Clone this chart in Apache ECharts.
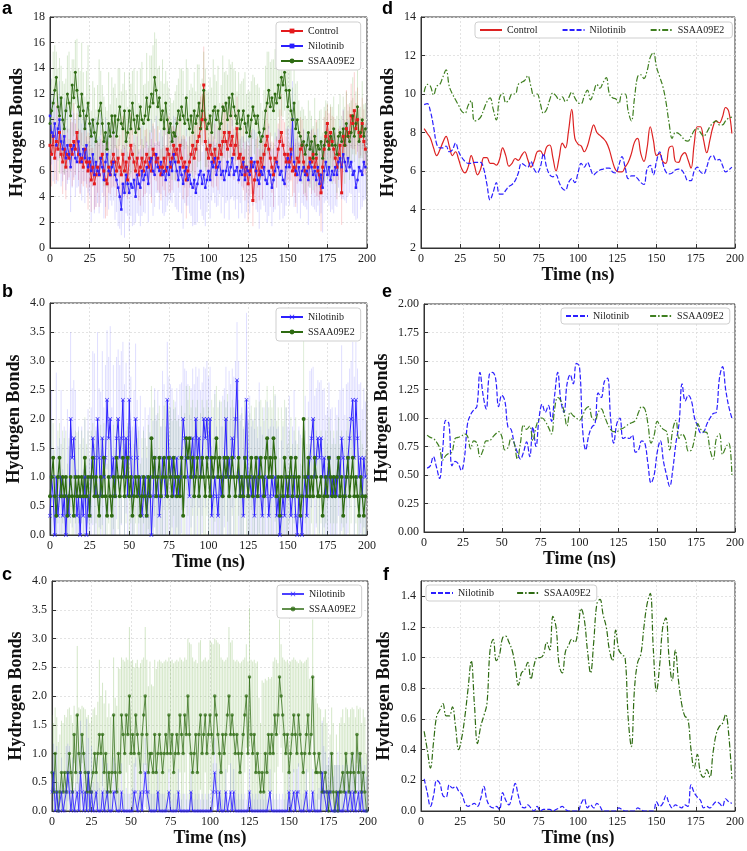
<!DOCTYPE html>
<html>
<head>
<meta charset="utf-8">
<script src="https://cdn.jsdelivr.net/npm/echarts@6/dist/echarts.min.js"></script>
<style>html,body{margin:0;padding:0;background:#fff}#c{width:747px;height:851px}</style>
</head>
<body>
<div id="c"></div>
<script>
// ---------- sample times ----------
const TIME_RAW = Array.from({length: 200}, (_, i) => i);          // 0..199 ns
const TIME_SMOOTH = Array.from({length: 99}, (_, i) => 2 + 2 * i); // 2..198 ns
const X_TICKS = [0, 25, 50, 75, 100, 125, 150, 175, 200];
const LEGEND_A = ['Control', 'Nilotinib', 'SSAA09E2'];
const LEGEND_B = ['Nilotinib', 'SSAA09E2'];

// ---------- panel a (raw, with error bars) ----------
const A_CTRL = [8.0,7.3,8.7,7.0,8.3,7.7,9.0,7.3,6.7,7.7,
6.3,7.3,7.0,8.0,7.3,8.3,7.7,9.0,7.3,6.7,
7.0,6.3,7.7,6.7,6.0,6.7,5.3,6.3,5.0,5.7,
6.3,5.7,7.0,7.3,6.0,5.3,5.0,6.3,5.7,6.7,
7.3,6.7,6.0,7.0,6.3,5.7,7.3,6.0,6.7,5.3,
7.0,8.0,7.3,6.7,6.0,7.0,5.7,6.3,7.0,6.0,
6.7,7.3,6.3,7.0,6.0,7.7,7.3,6.7,7.0,6.3,
5.7,6.3,7.0,6.0,7.7,7.3,6.3,7.0,8.0,7.3,
7.7,6.7,8.0,7.0,6.3,6.7,5.3,6.0,6.7,7.3,
8.0,7.0,7.7,8.3,8.7,9.3,10.0,12.7,8.3,7.7,
7.0,8.0,7.3,6.7,7.7,6.3,7.0,8.0,7.3,8.3,
9.0,8.3,7.7,9.0,8.0,8.7,7.3,8.0,9.3,7.0,
7.3,6.3,7.0,5.7,6.3,5.0,6.0,6.7,3.7,5.3,
6.0,6.7,5.7,7.0,6.3,7.3,8.0,8.7,7.7,7.0,
6.3,5.7,7.0,6.7,7.7,8.3,9.0,8.0,7.3,6.7,
7.3,6.7,7.7,6.0,6.3,5.7,7.0,6.7,7.7,8.0,
6.7,6.0,5.7,6.3,7.0,6.7,7.3,6.3,7.0,6.0,
5.7,4.3,6.3,7.7,8.7,9.7,8.0,9.0,8.3,7.7,
7.0,6.3,7.3,8.0,4.3,8.7,8.0,9.3,8.7,9.0,
10.3,9.7,10.7,9.3,10.0,9.0,8.7,9.7,8.3,7.7];
const A_CTRL_ERR = [2,2.5,1.5,2,3,2.5,2,1.5,2.5,2,
2.5,2,1.5,2,2.5,3,2,1.5,2,2.5,
2,1.5,2.5,2,3,2,2.5,1.5,2,2.5,
2,2.5,1.5,2,2,3,2.5,2,1.5,2,
2.5,2,2,1.5,2.5,2,3,2,2.5,1.5,
2,2.5,2,1.5,2,2.5,2,3,1.5,2,
2.5,2,1.5,2,2.5,2,2,1.5,2.5,2,
2,1.5,2.5,2,2,3,2,2.5,1.5,2,
2.5,2,2,1.5,2.5,2,3,2,2,1.5,
2,2.5,2,1.5,2,2.5,2,3,2,2.5,
1.5,2,2.5,2,2,1.5,2.5,2,2,3,
2,2.5,1.5,2,2.5,2,2,1.5,2.5,2,
2,1.5,2.5,2,2,3,2,2.5,2,1.5,
2.5,2,2,1.5,2.5,2,2,3,2,2,
2,2.5,1.5,2,2,2.5,3,2,2.5,2,
2,1.5,2.5,2,2,2.5,2,1.5,2.5,2,
2.5,2,2,1.5,2,2.5,2,2,3,2,
2,3,2,2.5,2,1.5,2.5,2,2,2.5,
2,2.5,2,1.5,2.5,2,2,3,2.5,2,
2.5,2,3,2,2.5,2,1.5,2,2.5,2];
const A_NILO = [10.3,9.0,8.7,9.7,8.0,9.3,10.0,8.3,7.7,8.7,
7.0,8.0,7.3,6.3,7.7,8.0,7.0,6.7,8.3,7.3,
6.7,7.7,7.0,8.0,6.3,7.0,6.0,7.3,5.7,6.7,
6.0,5.7,7.0,6.3,5.3,6.7,7.3,6.0,5.7,6.3,
6.7,5.7,5.3,4.7,4.0,3.0,5.0,4.3,5.7,5.0,
4.3,5.0,4.7,5.3,4.0,5.7,5.0,4.7,6.0,5.3,
5.7,6.3,5.0,6.7,7.0,6.0,5.7,7.3,6.3,6.0,
6.7,5.7,6.0,5.3,6.3,5.7,6.7,6.0,7.3,6.7,
6.0,5.3,6.3,5.7,5.0,6.0,6.3,5.3,5.7,5.0,
4.7,5.3,4.3,5.0,5.7,6.0,5.0,5.7,4.7,5.3,
6.0,5.3,6.7,6.3,7.0,5.7,6.3,6.7,5.7,6.0,
5.3,6.0,6.7,5.7,6.3,7.0,5.7,6.0,6.3,5.3,
6.0,5.7,6.7,5.3,6.3,6.0,5.7,7.0,6.3,6.7,
6.0,5.3,5.0,6.0,5.7,6.3,5.3,5.0,6.0,5.7,
4.7,5.3,6.0,6.7,6.3,5.7,6.0,5.3,5.0,6.3,
7.0,6.3,7.3,10.0,6.7,6.0,5.7,6.3,5.3,6.0,
6.3,5.7,6.0,5.3,6.7,6.3,5.7,6.0,5.3,6.3,
5.0,5.7,4.7,6.0,6.7,5.7,6.3,5.3,6.0,5.7,
6.3,5.7,6.7,7.0,6.3,7.3,6.7,6.0,7.0,6.3,
6.7,5.7,6.0,4.7,5.3,6.3,6.0,5.7,6.7,6.3];
const A_NILO_ERR = [3,2.5,3.5,2,3,2.5,3,3.5,2.5,3,
2.5,3,2,3.5,3,2.5,3,2,3.5,3,
3,2.5,3.5,3,2,3,4,2.5,3,3.5,
2.5,3,3.5,2,3,3.5,2.5,3,2,3,
3,3.5,2.5,3,2.5,2,3,3.5,3,2.5,
3,2.5,3,3.5,2,3,2.5,3,3.5,2.5,
3,2,3,2.5,3,3.5,2.5,3,2,3,
2.5,3,3.5,2.5,3,2,3,2.5,3,3.5,
3,2.5,2,3,3.5,2.5,3,2,3,2.5,
3,3.5,2.5,3,2,3,2.5,3.5,3,2.5,
2.5,3,3,2,3.5,2.5,3,2.5,3,2,
3,2.5,3,3.5,2.5,3,2,3,2.5,3,
2.5,3,2,3,3.5,2.5,3,2,3,2.5,
3,2.5,3.5,3,2,3,2.5,3,3.5,2.5,
3,2.5,3,2,3,3.5,2.5,3,2.5,3,
2.5,3,2,3,3.5,2.5,3,2,3,2.5,
3,2.5,3,3.5,2,3,2.5,3,2.5,3,
2.5,3,3.5,2.5,3,2,3,2.5,3,3,
3,2.5,2,3,2.5,3.5,3,2.5,3,2,
2.5,3,3.5,2.5,3,2,3,2.5,3,2.5];
const A_SSAA = [9.7,10.7,11.3,12.3,13.3,11.0,10.3,11.7,10.0,9.3,
10.7,12.0,11.3,10.3,12.7,11.7,13.7,12.3,11.0,10.3,
12.0,10.7,9.3,10.3,11.3,9.7,8.7,10.0,9.0,8.3,
9.7,10.7,11.3,9.7,8.3,9.0,7.7,9.7,8.7,10.3,
9.0,10.3,8.7,10.0,11.0,9.7,9.3,10.7,8.3,9.0,
10.7,9.3,11.3,10.0,9.0,10.3,9.3,11.0,10.0,9.7,
10.3,11.7,10.0,11.0,12.0,11.3,13.3,12.3,11.0,11.7,
10.0,10.7,9.3,11.3,10.0,9.0,9.7,8.3,9.0,8.7,
9.7,10.7,10.0,11.0,10.3,9.7,11.7,10.0,9.3,10.3,
9.0,10.7,9.7,10.3,11.3,9.3,10.7,12.3,10.0,9.3,
9.7,10.3,9.0,10.7,11.0,10.0,10.7,9.3,9.7,11.0,
10.7,11.3,10.0,11.7,10.3,12.0,11.0,10.3,9.7,10.7,
9.3,10.0,10.7,9.7,9.0,10.3,8.7,10.0,11.0,10.3,
9.7,10.3,9.0,8.3,8.7,9.3,10.7,11.3,12.3,11.0,
11.7,10.7,12.0,11.3,12.7,11.7,13.3,12.7,13.7,12.3,
11.0,12.3,10.7,10.0,11.3,9.3,10.0,9.0,8.7,8.0,
8.3,7.3,8.0,9.0,7.7,8.3,7.0,8.7,7.3,8.0,
7.7,8.3,7.0,8.0,9.0,8.3,7.7,8.7,8.0,9.3,
8.0,7.3,8.7,9.0,8.3,9.3,8.0,9.7,8.7,8.3,
9.0,10.3,8.7,9.7,11.0,8.3,9.0,10.0,8.7,9.3];
const A_SSAA_ERR = [3,2.5,4,3.5,2,3,4.5,2.5,3,3.5,
2.5,3,4,3.5,2,3,2.5,4,3,3.5,
4,3,2.5,3.5,4.5,3,2,3,3.5,2.5,
3,4,2.5,3,3.5,2,3,4,2.5,3,
3.5,2.5,3,4,3,2.5,3.5,3,4,2,
3,3.5,2.5,4,3,3.5,2,3,4.5,3,
2.5,3.5,3,4,3,4.5,3.5,4,3,2.5,
3,4,3.5,2.5,3,3.5,2,3,2.5,3.5,
3,2.5,4,3,3.5,2,3,4,3,2.5,
3.5,3,2.5,4,3,3.5,2.5,3,4,3,
2.5,3,3.5,4,2.5,3,3.5,2,3,4,
3,2.5,3.5,3,4,2.5,3,3.5,2.5,3,
3.5,3,2.5,4,3,2,3.5,3,2.5,3,
3,2.5,3.5,3,2,3,3.5,4,3,3.5,
3,4,3.5,3,2.5,3.5,3,2.5,3,3.5,
4,3,3.5,2.5,3,3.5,3,2.5,2,3,
2.5,3,2,2.5,3,2,2.5,3,2.5,2,
3,2.5,2,3,2.5,3,2,2.5,3,2.5,
2,3,2.5,3,2,2.5,3,2.5,2,3,
2.5,3,2,2.5,3,2.5,2,3,2.5,2];

// ---------- panel b (raw) ----------
const B_NILO = [0.33,1.0,0.67,0.0,1.0,0.33,0.67,1.0,0.33,0.67,
0.0,0.67,0.33,2.0,1.33,1.67,1.0,0.33,0.67,0.0,
0.67,0.33,1.0,0.0,0.67,0.33,1.0,1.67,1.33,0.67,
2.0,1.33,0.67,1.67,1.0,1.33,2.33,1.67,2.0,1.0,
1.33,0.67,1.67,2.0,1.33,1.67,2.33,1.0,1.67,0.67,
2.33,1.33,0.67,1.0,2.0,1.33,0.67,1.0,0.33,0.67,
1.0,0.33,0.67,1.0,0.0,0.67,1.33,0.67,1.0,0.33,
0.67,1.33,1.0,0.67,2.33,1.33,1.0,1.33,0.67,1.0,
1.33,0.67,1.0,1.33,2.0,1.67,1.33,1.0,0.67,1.33,
1.67,1.0,2.0,1.33,1.67,1.0,1.33,2.0,1.67,2.0,
1.33,2.0,0.33,0.67,1.0,0.67,0.33,1.0,0.67,1.0,
1.33,2.0,1.0,1.33,1.0,1.67,1.33,2.0,2.67,1.0,
0.67,1.0,0.33,1.33,2.33,0.67,1.0,0.67,1.0,0.33,
1.0,0.67,1.33,0.67,0.33,1.0,0.67,1.0,0.33,0.67,
1.0,0.67,1.0,0.33,0.67,0.0,0.33,0.67,0.33,1.0,
0.67,1.0,0.33,0.67,1.0,0.33,0.0,0.67,0.33,0.0,
0.67,1.0,0.33,1.0,1.33,1.67,2.0,1.0,1.33,1.67,
1.33,1.67,1.0,1.33,0.67,1.0,1.33,0.67,1.0,0.67,
1.0,0.67,1.33,1.0,1.67,1.33,0.67,1.0,1.33,1.67,
2.0,2.33,1.33,2.33,1.67,1.0,1.33,0.67,1.33,1.0];
const B_NILO_ERR = [1.2,1.5,0.8,1.0,1.8,1.2,1.0,1.5,0.8,1.2,
1.0,1.5,1.2,1.5,1.2,1.0,1.5,0.8,1.2,1.0,
1.2,0.8,1.0,1.2,1.5,1.0,1.2,1.5,1.8,1.2,
1.5,1.2,1.8,1.5,1.2,1.6,1.2,1.4,1.6,1.2,
1.6,1.3,1.4,1.2,1.6,1.5,1.0,1.6,1.3,1.2,
1.0,1.4,1.2,1.5,1.3,1.0,1.2,1.4,1.0,1.2,
1.2,1.0,1.4,1.2,1.0,1.3,1.2,1.4,1.5,1.0,
1.2,1.5,1.6,1.2,1.0,1.4,1.6,1.2,1.5,1.3,
1.2,1.4,1.6,1.3,1.0,1.2,1.5,1.6,1.4,1.2,
1.2,1.6,0.9,1.4,1.2,1.5,1.3,0.9,1.2,1.0,
1.4,0.9,1.2,1.0,1.5,1.2,1.0,1.3,1.2,1.4,
1.2,0.9,1.3,1.5,1.6,1.2,1.4,1.0,1.0,2.0,
1.4,1.2,1.5,1.0,1.5,1.3,1.4,1.2,1.0,1.5,
1.2,1.0,1.3,1.2,1.4,1.2,1.0,1.3,1.5,1.2,
1.0,1.2,1.4,1.5,1.2,1.0,1.3,1.2,1.0,1.2,
1.2,1.4,1.0,1.2,1.5,1.3,1.0,1.2,1.4,1.2,
1.2,1.4,1.0,1.3,1.5,1.2,0.9,1.4,1.2,1.0,
1.3,1.0,1.5,1.2,1.4,1.2,1.3,1.5,1.2,1.0,
1.2,1.4,1.0,1.5,1.6,1.2,1.4,1.6,1.3,1.2,
1.0,1.0,1.4,1.0,1.2,1.6,1.3,1.5,1.2,1.3];
const B_SSAA = [0.67,1.0,1.33,0.67,0.33,1.0,1.33,0.67,1.0,0.67,
1.0,0.33,0.67,1.0,0.67,0.33,1.0,0.67,1.0,0.67,
1.0,0.67,1.33,0.67,1.0,0.33,1.0,1.33,0.67,1.0,
0.67,0.33,1.0,0.67,1.33,0.67,0.33,1.0,0.67,0.33,
1.0,0.67,1.33,1.0,0.67,1.0,1.33,0.67,1.0,1.33,
0.67,1.0,0.33,0.67,1.0,0.67,1.0,0.33,0.67,1.0,
0.67,0.33,1.0,0.67,1.67,1.0,1.33,0.67,1.0,1.33,
0.67,1.0,1.33,1.0,0.67,1.33,1.0,0.67,1.33,1.0,
0.67,1.0,0.67,1.33,0.33,1.0,1.67,1.33,1.67,1.0,
1.33,0.67,1.0,1.33,0.67,1.0,1.33,1.0,0.67,1.33,
1.0,0.67,1.33,1.0,1.33,1.67,1.0,1.33,1.0,0.67,
1.33,1.0,1.33,0.67,1.0,1.33,1.0,0.67,1.0,1.33,
0.67,1.0,0.67,1.33,1.0,0.67,1.0,1.33,0.67,1.0,
1.33,0.67,1.0,1.33,1.0,0.67,1.33,1.67,1.0,1.33,
1.0,1.67,1.33,0.67,1.0,0.33,1.0,0.67,1.33,1.0,
0.67,1.0,1.33,0.67,1.0,1.33,0.67,1.0,0.33,0.67,
2.0,1.0,0.67,1.33,0.67,1.0,0.67,1.33,1.0,0.67,
0.67,1.0,0.33,0.67,1.0,0.67,1.33,1.0,0.67,1.0,
0.67,1.0,1.33,0.67,1.0,0.33,0.67,1.0,1.33,0.67,
1.0,1.33,0.67,1.0,0.67,0.33,1.0,0.67,0.33,0.67];
const B_SSAA_ERR = [0.8,1.0,0.6,0.8,1.0,0.8,0.6,0.9,0.8,1.0,
0.8,0.9,1.0,0.8,0.9,1.0,0.8,1.1,0.8,0.9,
0.8,1.0,0.7,0.9,0.8,1.0,0.8,0.6,0.9,0.8,
1.0,0.8,0.9,0.8,0.6,1.0,0.9,0.8,1.0,0.8,
0.9,0.8,0.7,0.9,1.0,0.8,0.6,0.9,0.8,0.6,
0.9,0.8,1.0,0.9,0.8,1.0,0.8,0.9,1.0,0.8,
1.0,1.2,0.9,1.1,0.9,1.2,1.0,1.3,1.1,0.9,
1.2,1.0,0.9,1.3,1.1,0.9,1.2,1.3,1.0,1.2,
1.3,1.0,1.2,0.9,1.2,1.1,0.9,1.0,0.9,1.2,
1.0,1.3,1.2,1.0,1.3,1.1,1.0,1.2,1.3,1.0,
1.2,1.3,1.0,1.2,1.1,0.9,1.2,1.0,1.3,1.2,
1.0,1.2,1.1,1.3,1.2,1.0,1.2,1.3,1.1,1.0,
1.3,1.1,1.2,1.0,1.2,1.3,1.1,0.9,1.3,1.2,
1.0,1.2,1.3,1.0,1.2,1.3,1.0,0.9,1.2,1.0,
1.2,0.9,1.1,1.3,1.2,1.0,1.2,1.3,1.0,1.2,
0.9,0.8,0.7,0.9,0.8,0.7,0.9,0.8,0.9,1.0,
1.5,0.8,0.9,0.7,0.9,0.8,0.9,0.7,0.8,0.9,
0.9,0.8,0.9,1.0,0.8,0.9,0.7,0.8,0.9,0.8,
0.9,0.8,0.7,0.9,0.8,0.9,1.0,0.8,0.7,0.9,
0.8,0.7,0.9,0.8,1.0,0.9,0.8,0.9,1.0,0.8];

// ---------- panel c (raw) ----------
const C_NILO = [0.33,0.67,0,0.33,0,0,0.33,0,0,0.33,
0.67,0.33,0,0.33,0,0,0.33,0,0.67,0.33,
0,0.33,0,0.67,0,0.33,0,0,0.33,0,
0,0,0.33,0,0,0.33,0,0,0,0.33,
0.33,0,0,0,0.33,0,0,0,0,0,
0,0,0.33,0.33,0,0,0.33,0,0.33,0.67,
0.33,0.33,0,0,0,0,0,0.33,0,0,
0,0,0,0,0.33,0,0,0,0,0,
0.33,0,0,0,0,0,0,0,0.33,0,
0,0,0,0,0,0,0,0,0,0,
0,0,0.33,0.67,0.33,0,0.33,0,0,0,
0.33,0,0,0.33,0,0.33,0,0,0,0,
0,0,0,0,0,0.33,0,0,0,0,
0,0,0,0,0,0,0,0,0.33,0,
0,0,0,0,0,0,0,0,0,0,
0.33,0,0,0.33,0,0.33,0.33,0,0,0,
0,0.33,0,0,0,0.33,0,0,0,0,
0,0.67,0.33,0.33,0,0.33,0.33,0,0,0,
0,0.33,0,0,0,0,0.33,0,0,0.33,
0,0.33,0,0,0.33,0,0.33,0,0,0];
const C_NILO_ERR = [0.6,0.5,0.4,0.8,0.5,0.3,0.6,0.5,0.4,0.8,
0.5,0.8,0.5,0.6,0.4,0.5,0.7,0.5,0.9,0.8,
0.5,0.7,1.6,0.6,0.4,0.8,0.5,0.3,0.6,0.5,
0.4,0.3,0.6,0.4,0.3,0.5,0.3,0.4,0.3,0.6,
0.5,0.3,0.4,0.3,0.5,0.3,0.3,0.4,0.3,0.3,
0.3,0.4,0.5,0.6,0.3,0.3,0.5,0.3,0.5,0.6,
0.5,0.4,0.3,0.3,0.3,0.3,0.3,0.4,0.3,0.3,
0.3,0.3,0.2,0.3,0.4,0.3,0.2,0.3,0.3,0.2,
0.4,0.3,0.2,0.3,0.3,0.2,0.3,0.2,0.4,0.3,
0.2,0.3,0.2,0.3,0.2,0.3,0.2,0.3,0.2,0.3,
0.3,0.2,0.5,0.6,0.5,0.3,0.4,0.3,0.2,0.3,
0.4,0.3,0.2,0.5,0.3,0.4,0.3,0.2,0.3,0.2,
0.3,0.2,0.3,0.2,0.3,0.4,0.2,0.3,0.2,0.3,
0.2,0.3,0.2,0.3,0.2,0.3,0.2,0.3,0.4,0.2,
0.3,0.2,0.3,0.2,0.3,0.2,0.3,0.2,0.3,0.2,
0.4,0.3,0.2,0.4,0.3,0.4,0.5,0.3,0.2,0.3,
0.3,0.4,0.3,0.2,0.3,0.4,0.3,0.2,0.3,0.4,
0.5,0.9,0.8,0.7,0.8,0.6,0.7,0.8,0.6,0.8,
0.8,0.7,0.8,0.6,0.8,0.7,0.6,0.8,0.7,0.6,
0.8,0.7,0.6,0.8,0.7,0.8,0.6,0.7,0.8,0.6];
const C_SSAA = [0.67,0.33,1.0,0.33,0.0,0.33,0.67,0.33,0.67,0.33,
0.67,1.0,0.67,0.33,1.33,0.67,1.67,1.0,0.67,1.33,
1.0,0.67,0.33,0.67,0.33,0.33,0.67,1.0,0.67,1.0,
1.33,1.0,1.33,0.67,1.0,0.33,0.67,0.33,0.67,1.67,
0.67,0.33,1.0,0.67,1.67,1.33,1.0,1.67,1.33,2.0,
1.0,1.33,1.0,1.67,1.33,1.0,0.67,1.33,1.67,2.0,
1.33,0.67,1.0,1.0,0.67,1.33,0.67,1.0,1.33,1.0,
0.67,1.0,1.33,1.0,1.67,1.0,1.33,0.67,1.0,1.33,
1.0,1.67,1.33,1.0,1.67,1.33,2.0,1.33,1.0,0.67,
1.0,1.33,0.67,1.33,1.67,1.0,1.33,1.67,1.0,1.33,
1.67,1.33,1.0,2.0,1.67,1.33,1.0,0.67,1.33,1.0,
1.33,1.67,2.0,1.33,1.67,1.33,1.0,1.33,1.0,0.67,
1.0,1.33,1.67,2.0,1.0,2.33,1.33,1.0,1.33,0.67,
1.0,0.67,0.33,0.67,0.33,1.0,0.67,1.33,1.0,1.33,
1.0,1.67,1.33,1.67,2.33,2.0,1.67,1.33,1.0,1.33,
0.67,1.0,1.33,1.67,1.33,1.0,1.67,1.33,1.0,0.67,
1.0,1.33,1.67,1.0,1.33,2.33,1.0,0.67,0.67,1.0,
0.67,0.33,0.33,0.67,0.33,0.0,0.33,1.0,0.33,0.0,
0.33,0.0,0.33,0.33,0.67,0.33,1.0,0.67,0.33,0.67,
1.0,0.67,0.33,1.33,0.67,1.0,0.33,0.67,0.33,0.0];
const C_SSAA_ERR = [1.0,1.2,0.8,1.3,1.2,1.0,0.9,1.2,1.0,1.3,
1.1,0.8,1.0,1.2,0.5,1.0,1.2,0.8,1.1,0.5,
0.8,1.1,1.3,1.0,1.2,1.3,1.1,0.8,1.0,0.9,
1.3,1.0,0.9,1.2,1.1,1.3,1.2,1.3,1.0,1.0,
1.3,1.5,1.5,1.8,1.0,1.3,1.6,1.0,1.3,1.2,
1.6,1.3,1.5,0.9,1.3,1.5,1.9,1.3,1.0,1.2,
1.3,1.5,1.6,1.2,1.5,1.3,1.8,1.6,1.3,1.6,
1.9,1.6,1.3,1.6,1.0,1.6,1.3,1.9,1.6,1.3,
1.6,1.0,1.3,1.6,1.0,1.3,1.0,1.6,1.9,2.0,
1.6,1.3,1.9,1.6,1.3,1.6,1.3,1.0,1.6,1.3,
1.3,1.6,1.9,1.0,1.3,1.6,1.9,2.0,1.3,1.6,
1.3,1.0,1.2,1.6,1.3,1.3,1.6,1.3,1.6,1.9,
1.6,1.3,1.0,0.9,1.6,1.2,1.3,1.6,1.3,1.9,
1.6,1.3,1.2,1.6,1.9,1.3,1.6,1.0,1.3,1.0,
1.6,1.0,1.3,0.9,1.0,0.9,1.0,1.3,1.6,1.3,
1.9,1.6,1.3,1.0,1.3,1.6,0.9,1.3,1.6,1.9,
1.6,1.3,1.0,1.3,1.0,1.0,1.3,1.3,1.2,0.8,
1.1,1.2,1.3,1.1,1.2,0.8,1.0,0.8,1.2,0.8,
1.0,0.8,1.2,1.3,1.1,1.2,0.8,1.1,1.3,1.1,
0.8,1.1,1.3,0.5,1.1,0.8,1.2,1.1,1.3,1.0];

// ---------- panel d (smoothed) ----------
const D_CTRL = [8.2,7.95,7.7,7.2,6.8,7.1,7.5,7.8,7.3,6.8,
7.0,6.6,6.1,5.9,6.2,6.8,6.3,5.8,6.1,6.7,
6.7,6.4,6.4,6.3,6.6,7.2,6.8,6.25,6.4,6.65,
6.55,6.8,7.0,6.6,6.2,6.5,7.0,7.05,6.8,7.25,
7.35,6.7,6.0,6.7,7.45,7.2,8.1,9.2,7.7,7.4,
7.3,7.0,7.3,7.9,8.4,8.0,7.85,7.7,7.5,7.1,
6.5,6.05,5.95,5.95,6.2,6.45,6.9,7.5,7.7,6.9,
6.5,7.2,8.3,7.6,6.8,6.9,6.5,6.4,7.2,7.3,
6.5,6.45,6.8,6.95,6.6,6.15,7.4,8.3,8.3,7.6,
6.95,7.6,8.3,8.6,8.5,8.8,9.3,9.1,7.95];
const D_NILO = [9.45,9.5,9.1,8.3,7.4,7.2,7.2,7.3,7.0,7.1,
7.45,7.0,6.7,6.5,6.4,6.4,6.45,6.45,6.45,6.1,
5.3,4.5,4.9,5.4,4.8,4.8,5.0,5.2,5.3,5.5,
5.9,6.4,6.3,6.2,6.5,6.1,5.9,6.2,6.9,6.2,
5.8,5.7,5.8,5.4,5.1,5.0,5.4,5.6,5.4,5.9,
6.4,6.2,6.45,6.1,5.8,5.95,6.05,6.1,6.15,6.15,
5.95,5.9,6.3,6.75,6.2,5.6,5.75,5.75,5.6,5.4,
5.3,6.1,6.3,5.8,6.5,7.0,6.4,5.95,5.85,5.9,
6.05,6.1,6.05,5.8,5.5,5.5,6.0,6.2,5.95,5.85,
6.2,6.7,6.8,6.55,6.6,6.3,5.95,6.05,6.2];
const D_SSAA = [10.1,10.5,10.4,9.95,10.4,10.5,10.9,11.25,10.4,10.0,
9.7,9.4,9.1,9.0,9.4,9.65,8.6,8.65,8.8,9.2,
9.6,9.8,9.2,8.65,9.8,10.05,9.55,9.7,10.0,10.0,
10.5,10.6,10.7,10.95,10.4,9.9,10.0,9.5,9.0,9.2,
9.7,10.05,9.9,9.7,9.85,9.6,9.8,10.1,9.8,9.55,
9.5,9.9,10.2,9.7,10.1,10.5,10.3,10.6,10.85,10.0,
9.8,9.75,9.5,10.0,10.0,9.1,8.6,9.8,10.9,11.0,
10.8,11.2,11.9,12.15,11.4,10.9,10.4,9.6,8.5,7.7,
8.0,7.95,7.8,7.6,7.55,7.8,8.1,8.2,8.0,7.8,
8.0,8.3,8.5,8.6,8.4,8.4,8.6,8.75,8.8];

// ---------- panel e (smoothed) ----------
const E_NILO = [0.56,0.58,0.66,0.57,0.47,0.72,0.98,0.95,0.58,0.62,
0.6,0.54,0.65,0.95,1.03,1.07,1.1,1.4,1.2,1.08,
1.38,1.4,1.35,1.1,1.2,1.15,0.92,0.9,0.78,0.7,
0.64,0.7,0.79,0.66,0.92,0.75,1.0,1.12,1.05,1.11,
0.97,1.2,1.4,1.15,1.05,1.3,1.38,1.3,1.48,1.45,
0.9,0.72,0.85,0.92,0.95,1.22,1.18,1.32,1.35,1.0,
0.78,0.95,1.0,0.82,0.83,0.82,0.85,0.7,0.72,0.8,
0.78,0.6,0.43,0.5,0.7,0.8,0.62,0.5,0.4,0.55,
0.78,0.95,1.3,1.15,1.2,1.15,1.0,0.93,0.87,0.88,
0.95,1.0,1.04,1.05,1.35,1.45,1.25,1.1,1.0];
const E_SSAA = [0.85,0.83,0.82,0.79,0.74,0.63,0.67,0.69,0.7,0.82,
0.83,0.84,0.86,0.84,0.73,0.8,0.78,0.66,0.72,0.8,
0.8,0.83,0.86,0.88,0.84,0.72,0.74,0.82,0.78,0.64,
0.78,0.94,0.9,0.93,0.8,0.92,0.99,1.0,0.97,0.92,
0.86,1.08,1.18,1.15,1.06,0.93,1.05,1.02,1.0,0.98,
1.02,1.08,1.1,1.0,0.98,1.05,1.08,1.02,0.95,0.9,
0.88,0.88,0.9,0.91,0.93,0.95,0.96,0.98,1.05,1.1,
1.08,0.95,0.78,0.85,0.97,0.93,0.9,0.88,0.72,0.9,
0.98,0.82,0.86,0.82,0.71,0.72,0.82,0.95,0.9,0.88,
0.87,0.72,0.64,0.82,0.86,0.68,0.74,0.78,0.5];

// ---------- panel f (smoothed) ----------
const F_NILO = [0.21,0.12,0.03,0.1,0.2,0.18,0.1,0.09,0.17,0.15,
0.16,0.13,0.11,0.05,0.03,0.04,0.05,0.03,0.08,0.16,
0.07,0.03,0.02,0.03,0.01,0.12,0.07,0.04,0.1,0.18,
0.1,0.03,0.02,0.04,0.02,0.0,0.03,0.0,0.01,0.01,
0.01,0.0,0.01,0.02,0.03,0.01,0.0,0.0,0.0,0.0,
0.05,0.08,0.02,0.04,0.02,0.05,0.03,0.0,0.0,0.0,
0.0,0.0,0.02,0.01,0.0,0.0,0.0,0.0,0.02,0.01,
0.0,0.0,0.0,0.0,0.06,0.03,0.05,0.1,0.05,0.02,
0.04,0.03,0.02,0.04,0.03,0.17,0.12,0.09,0.07,0.02,
0.03,0.02,0.04,0.06,0.05,0.03,0.08,0.06,0.05];
const F_SSAA = [0.52,0.4,0.28,0.45,0.62,0.66,0.7,0.62,0.62,0.68,
0.55,0.4,0.48,0.62,0.8,0.98,0.7,0.44,0.55,0.62,
0.7,1.05,1.12,0.98,1.02,1.13,1.14,1.1,1.05,0.95,
0.82,0.9,0.92,0.97,0.86,0.95,1.0,1.0,1.02,1.1,
1.05,1.27,1.2,0.95,0.9,1.04,1.08,1.12,1.1,1.18,
1.32,1.25,1.05,0.9,1.1,1.35,1.38,1.28,1.2,1.05,
0.98,1.18,1.05,1.02,1.0,0.6,0.42,0.8,0.97,1.02,
1.2,1.35,1.42,1.05,0.78,0.95,1.2,1.26,1.0,0.85,
1.05,0.85,0.7,0.62,0.6,0.4,0.28,0.37,0.25,0.22,
0.27,0.22,0.38,0.5,0.55,0.57,0.63,0.5,0.21];

// ---------- styling ----------
const SERIF = "'Liberation Serif', 'DejaVu Serif', serif";
const RED = '#e41a1c';
const BLUE = '#2b1fff';
const GREEN = '#2e6b12';
const GREEN_L = '#3f7f20';
const X_SYMBOL = 'path://M1,0L5,4L9,0L10,1L6,5L10,9L9,10L5,6L1,10L0,9L4,5L0,1Z';

const grids = [
  {left: 50, top: 17, width: 317, height: 231},   // a
  {left: 421, top: 17, width: 315, height: 231},  // d
  {left: 50, top: 303, width: 317, height: 232},  // b
  {left: 424, top: 304, width: 313, height: 228}, // e
  {left: 52, top: 581, width: 316, height: 230},  // c
  {left: 421, top: 581, width: 315, height: 230}  // f
].map(g => Object.assign({show: true, borderColor: '#333', borderWidth: 1, backgroundColor: 'transparent', containLabel: false}, g));

const yCfg = [
  {min: 0, max: 18, interval: 2, gap: 24, fmt: v => String(v)},
  {min: 2, max: 14, interval: 2, gap: 24, fmt: v => String(v)},
  {min: 0, max: 4, interval: 0.5, gap: 27, fmt: v => v.toFixed(1)},
  {min: 0, max: 2, interval: 0.25, gap: 33, fmt: v => v.toFixed(2)},
  {min: 0, max: 4, interval: 0.5, gap: 27, fmt: v => v.toFixed(1)},
  {min: 0, max: 1.5, interval: 0.2, gap: 28, fmt: v => v.toFixed(1), hideMax: true}
];

const axisCommon = {
  axisLine: {show: true, lineStyle: {color: '#333', width: 1}},
  axisTick: {show: true, inside: true, length: 4, lineStyle: {color: '#333'}},
  splitLine: {show: true, lineStyle: {color: '#dcdcdc', type: [2, 2], width: 0.8}},
  nameLocation: 'middle',
  nameTextStyle: {fontFamily: SERIF, fontWeight: 'bold', fontSize: 18, color: '#111'}
};

const xAxes = grids.map((g, i) => Object.assign({}, axisCommon, {
  gridIndex: i, type: 'value', min: X_TICKS[0], max: X_TICKS[X_TICKS.length - 1], interval: 25,
  name: 'Time (ns)', nameGap: 17,
  axisLabel: {fontFamily: SERIF, fontSize: 12, color: '#222', margin: 5}
}));
const yAxes = grids.map((g, i) => Object.assign({}, axisCommon, {
  gridIndex: i, type: 'value', min: yCfg[i].min, max: yCfg[i].max, interval: yCfg[i].interval,
  name: 'Hydrogen Bonds', nameGap: yCfg[i].gap, nameRotate: 90,
  axisLabel: {fontFamily: SERIF, fontSize: 12, color: '#222', margin: 5, formatter: yCfg[i].fmt,
              showMaxLabel: yCfg[i].hideMax ? false : true}
}));

function pairs(t, v) { return t.map((x, i) => [x, v[i]]); }

function errSeries(idx, t, v, e, color, op) {
  return {
    type: 'custom', name: 'err' + idx + color, xAxisIndex: idx, yAxisIndex: idx, clip: true,
    silent: true, animation: false,
    data: t.map((x, i) => [x, Math.max(0, v[i] - e[i]), v[i] + e[i]]),
    encode: {x: 0, y: [1, 2]},
    renderItem: function (params, api) {
      const p1 = api.coord([api.value(0), api.value(1)]);
      const p2 = api.coord([api.value(0), api.value(2)]);
      return {type: 'line', shape: {x1: p1[0], y1: p1[1], x2: p2[0], y2: p2[1]},
              style: {stroke: color, lineWidth: 1, opacity: op}};
    }
  };
}

function rawLine(idx, prefix, name, t, v, color, symbol, size, lw, op) {
  return {
    type: 'line', name: prefix + ':' + name, xAxisIndex: idx, yAxisIndex: idx,
    data: pairs(t, v), symbol: symbol, symbolSize: size, showSymbol: true,
    lineStyle: {color: color, width: lw, opacity: op},
    itemStyle: {color: color, opacity: op},
    animation: false, silent: true
  };
}

function smoothLine(idx, prefix, name, t, v, color, dash, lw) {
  return {
    type: 'line', name: prefix + ':' + name, xAxisIndex: idx, yAxisIndex: idx,
    data: pairs(t, v), symbol: 'none', smooth: 0.4,
    lineStyle: {color: color, width: lw, type: dash},
    itemStyle: {color: color},
    animation: false, silent: true
  };
}

const series = [
  // a
  errSeries(0, TIME_RAW, A_CTRL, A_CTRL_ERR, RED, 0.2),
  rawLine(0, 'a', LEGEND_A[0], TIME_RAW, A_CTRL, RED, 'rect', 3, 0.9, 1),
  errSeries(0, TIME_RAW, A_NILO, A_NILO_ERR, BLUE, 0.16),
  rawLine(0, 'a', LEGEND_A[1], TIME_RAW, A_NILO, BLUE, 'rect', 2.5, 0.9, 1),
  errSeries(0, TIME_RAW, A_SSAA, A_SSAA_ERR, '#4c9a2a', 0.22),
  rawLine(0, 'a', LEGEND_A[2], TIME_RAW, A_SSAA, GREEN, 'circle', 3, 0.9, 1),
  // d
  smoothLine(1, 'd', LEGEND_A[0], TIME_SMOOTH, D_CTRL, '#dd2222', 'solid', 1.2),
  smoothLine(1, 'd', LEGEND_A[1], TIME_SMOOTH, D_NILO, BLUE, [5, 2], 1.2),
  smoothLine(1, 'd', LEGEND_A[2], TIME_SMOOTH, D_SSAA, GREEN_L, [6, 2, 1.5, 2], 1.2),
  // b
  errSeries(2, TIME_RAW, B_NILO, B_NILO_ERR, BLUE, 0.15),
  rawLine(2, 'b', LEGEND_B[0], TIME_RAW, B_NILO, BLUE, X_SYMBOL, 4, 1, 1),
  errSeries(2, TIME_RAW, B_SSAA, B_SSAA_ERR, '#4c9a2a', 0.18),
  rawLine(2, 'b', LEGEND_B[1], TIME_RAW, B_SSAA, GREEN, 'circle', 4, 1.2, 1),
  // e
  smoothLine(3, 'e', LEGEND_B[0], TIME_SMOOTH, E_NILO, BLUE, [5, 2], 1.2),
  smoothLine(3, 'e', LEGEND_B[1], TIME_SMOOTH, E_SSAA, GREEN_L, [6, 2, 1.5, 2], 1.2),
  // c
  errSeries(4, TIME_RAW, C_SSAA, C_SSAA_ERR, '#6fb04a', 0.3),
  errSeries(4, TIME_RAW, C_NILO, C_NILO_ERR, BLUE, 0.15),
  rawLine(4, 'c', LEGEND_B[1], TIME_RAW, C_SSAA, GREEN, 'circle', 3.5, 1, 0.75),
  rawLine(4, 'c', LEGEND_B[0], TIME_RAW, C_NILO, BLUE, X_SYMBOL, 3.5, 1, 0.85),
  // f
  smoothLine(5, 'f', LEGEND_B[0], TIME_SMOOTH, F_NILO, BLUE, [5, 2], 1.2),
  smoothLine(5, 'f', LEGEND_B[1], TIME_SMOOTH, F_SSAA, GREEN, [6, 2, 1.5, 2], 1.2)
];

const legendBase = {
  backgroundColor: '#fff', borderColor: '#cfcfcf', borderWidth: 1, borderRadius: 3,
  itemWidth: 22, itemHeight: 6, selectedMode: false,
  formatter: n => n.slice(2),
  textStyle: {fontFamily: SERIF, fontSize: 10, color: '#222'}
};
function lineOnly(prefix, names) {
  return names.map(n => ({name: prefix + ':' + n, itemStyle: {opacity: 0}}));
}
const legends = [
  {left: 276, top: 22, orient: 'vertical', itemGap: 5, padding: [4, 6, 4, 4], data: LEGEND_A.map(n => 'a:' + n)},
  {left: 475, top: 22, orient: 'horizontal', itemGap: 24, padding: [3, 8, 3, 4], data: lineOnly('d', LEGEND_A)},
  {left: 276, top: 308, orient: 'vertical', itemGap: 5, padding: [4, 6, 4, 4], data: LEGEND_B.map(n => 'b:' + n)},
  {left: 561, top: 308, orient: 'horizontal', itemGap: 20, padding: [3, 6, 3, 4], data: lineOnly('e', LEGEND_B)},
  {left: 277, top: 585, orient: 'vertical', itemGap: 5, padding: [4, 6, 4, 4], data: LEGEND_B.map(n => 'c:' + n)},
  {left: 426, top: 585, orient: 'horizontal', itemGap: 22, padding: [3, 6, 3, 4], data: lineOnly('f', LEGEND_B)}
].map(l => Object.assign({}, legendBase, l));

const panelLetters = [
  {t: 'a', x: 2, y: 0}, {t: 'd', x: 382, y: 0},
  {t: 'b', x: 2, y: 283}, {t: 'e', x: 382, y: 283},
  {t: 'c', x: 2, y: 566}, {t: 'f', x: 383, y: 566}
];

const chart = echarts.init(document.getElementById('c'), null, {renderer: 'canvas'});
chart.setOption({
  backgroundColor: '#fff',
  animation: false,
  grid: grids,
  xAxis: xAxes,
  yAxis: yAxes,
  legend: legends,
  series: series,
  graphic: panelLetters.map(p => ({
    type: 'text', left: p.x, top: p.y, z: 100,
    style: {text: p.t, fontFamily: "'Liberation Sans', Arial, sans-serif", fontWeight: 'bold', fontSize: 18, fill: '#000'}
  }))
});
</script>
</body>
</html>
